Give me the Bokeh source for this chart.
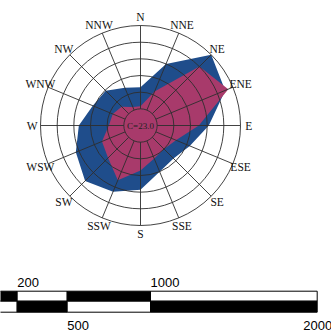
import numpy as np
from bokeh.plotting import figure
from bokeh.layouts import column
from bokeh.models import Range1d
from bokeh.core.properties import value
from bokeh.embed import file_html
from bokeh.resources import INLINE

# ---- data ----
directions = ["N", "NNE", "NE", "ENE", "E", "ESE", "SE", "SSE",
              "S", "SSW", "SW", "WSW", "W", "WNW", "NW", "NNW"]
blue_freq = [2.6, 6.0, 10.0, 9.0, 6.2, 4.4, 3.6, 4.0,
             5.7, 6.6, 7.4, 6.4, 5.4, 4.2, 3.9, 2.9]
red_freq = [0.3, 2.4, 8.0, 9.4, 5.0, 2.6, 2.0, 2.3,
            3.4, 5.1, 3.5, 3.0, 1.8, 1.6, 1.2, 0.4]
calm_pct = 23.0
ring_pcts = [0, 2, 4, 6, 8, 10]

scale_breaks = [0, 200, 500, 1000, 2000]
scale_top_labels = ["200", "1000"]
scale_top_pos = [200, 1000]
scale_bot_labels = ["500", "2000"]
scale_bot_pos = [500, 2000]

# ---- polar helpers ----
RING = 2.0  # percent per ring
def rad(v):
    return 1.0 + np.asarray(v, dtype=float) / RING

theta = np.deg2rad(np.arange(16) * 22.5)

def xy(vals):
    r = rad(vals)
    return list(r * np.sin(theta)), list(r * np.cos(theta))

BLUE = "#1f4d8b"
RED = "#a83a6b"
GRID = "#2e2e2e"

p = figure(width=331, height=258, output_backend="svg", toolbar_location=None,
           x_range=Range1d(-8.4, 11.46), y_range=Range1d(-7.98, 7.5),
           min_border=0)
p.axis.visible = False
p.grid.visible = False
p.outline_line_color = None
p.background_fill_color = "white"

bx, by = xy(blue_freq)
p.patch(bx, by, fill_color=BLUE, line_color=None)
rx, ry = xy(red_freq)
p.patch(rx, ry, fill_color=RED, line_color=None)

rr = list(rad(ring_pcts))
p.circle(x=[0] * len(rr), y=[0] * len(rr), radius=rr, fill_color=None,
         line_color=GRID, line_width=0.9)

r_in = rad(ring_pcts[0])
r_out = rad(ring_pcts[-1])
p.segment(x0=list(r_in * np.sin(theta)), y0=list(r_in * np.cos(theta)),
          x1=list(r_out * np.sin(theta)), y1=list(r_out * np.cos(theta)),
          line_color=GRID, line_width=0.9)

r_lab = r_out + 0.5
p.text(x=list(r_lab * np.sin(theta)), y=list(r_lab * np.cos(theta)), text=directions,
       text_font=value("Liberation Serif"), text_font_size="11.5px",
       text_align="center", text_baseline="middle", text_color="#111111")

p.text(x=[0], y=[0], text=["C=%.1f" % calm_pct],
       text_font=value("Liberation Serif"), text_font_size="9px",
       text_align="center", text_baseline="middle", text_color="#222222")

# ---- scale bar ----
s = figure(width=331, height=74, output_backend="svg", toolbar_location=None,
           x_range=Range1d(100.0, 2085.8), y_range=Range1d(0, 74), min_border=0)
s.axis.visible = False
s.grid.visible = False
s.outline_line_color = None

lefts = scale_breaks[:-1]
rights = scale_breaks[1:]
top_cols = ["black" if i % 2 == 0 else "white" for i in range(len(lefts))]
bot_cols = ["white" if i % 2 == 0 else "black" for i in range(len(lefts))]
s.quad(left=lefts, right=rights, top=[41.3] * len(lefts), bottom=[31.3] * len(lefts),
       fill_color=top_cols, line_color="black", line_width=1)
s.quad(left=lefts, right=rights, top=[31.3] * len(lefts), bottom=[20.3] * len(lefts),
       fill_color=bot_cols, line_color="black", line_width=1)

s.text(x=scale_top_pos, y=[50.0] * 2, text=scale_top_labels,
       text_font=value("Liberation Sans"), text_font_size="13px",
       text_align="left", text_baseline="alphabetic", text_color="black")
s.text(x=scale_bot_pos, y=[7.0] * 2, text=scale_bot_labels, x_offset=[0, -14],
       text_font=value("Liberation Sans"), text_font_size="13px",
       text_align="left", text_baseline="alphabetic", text_color="black")

layout = column(p, s, spacing=0)
open("out.html", "w").write(file_html(layout, INLINE))
